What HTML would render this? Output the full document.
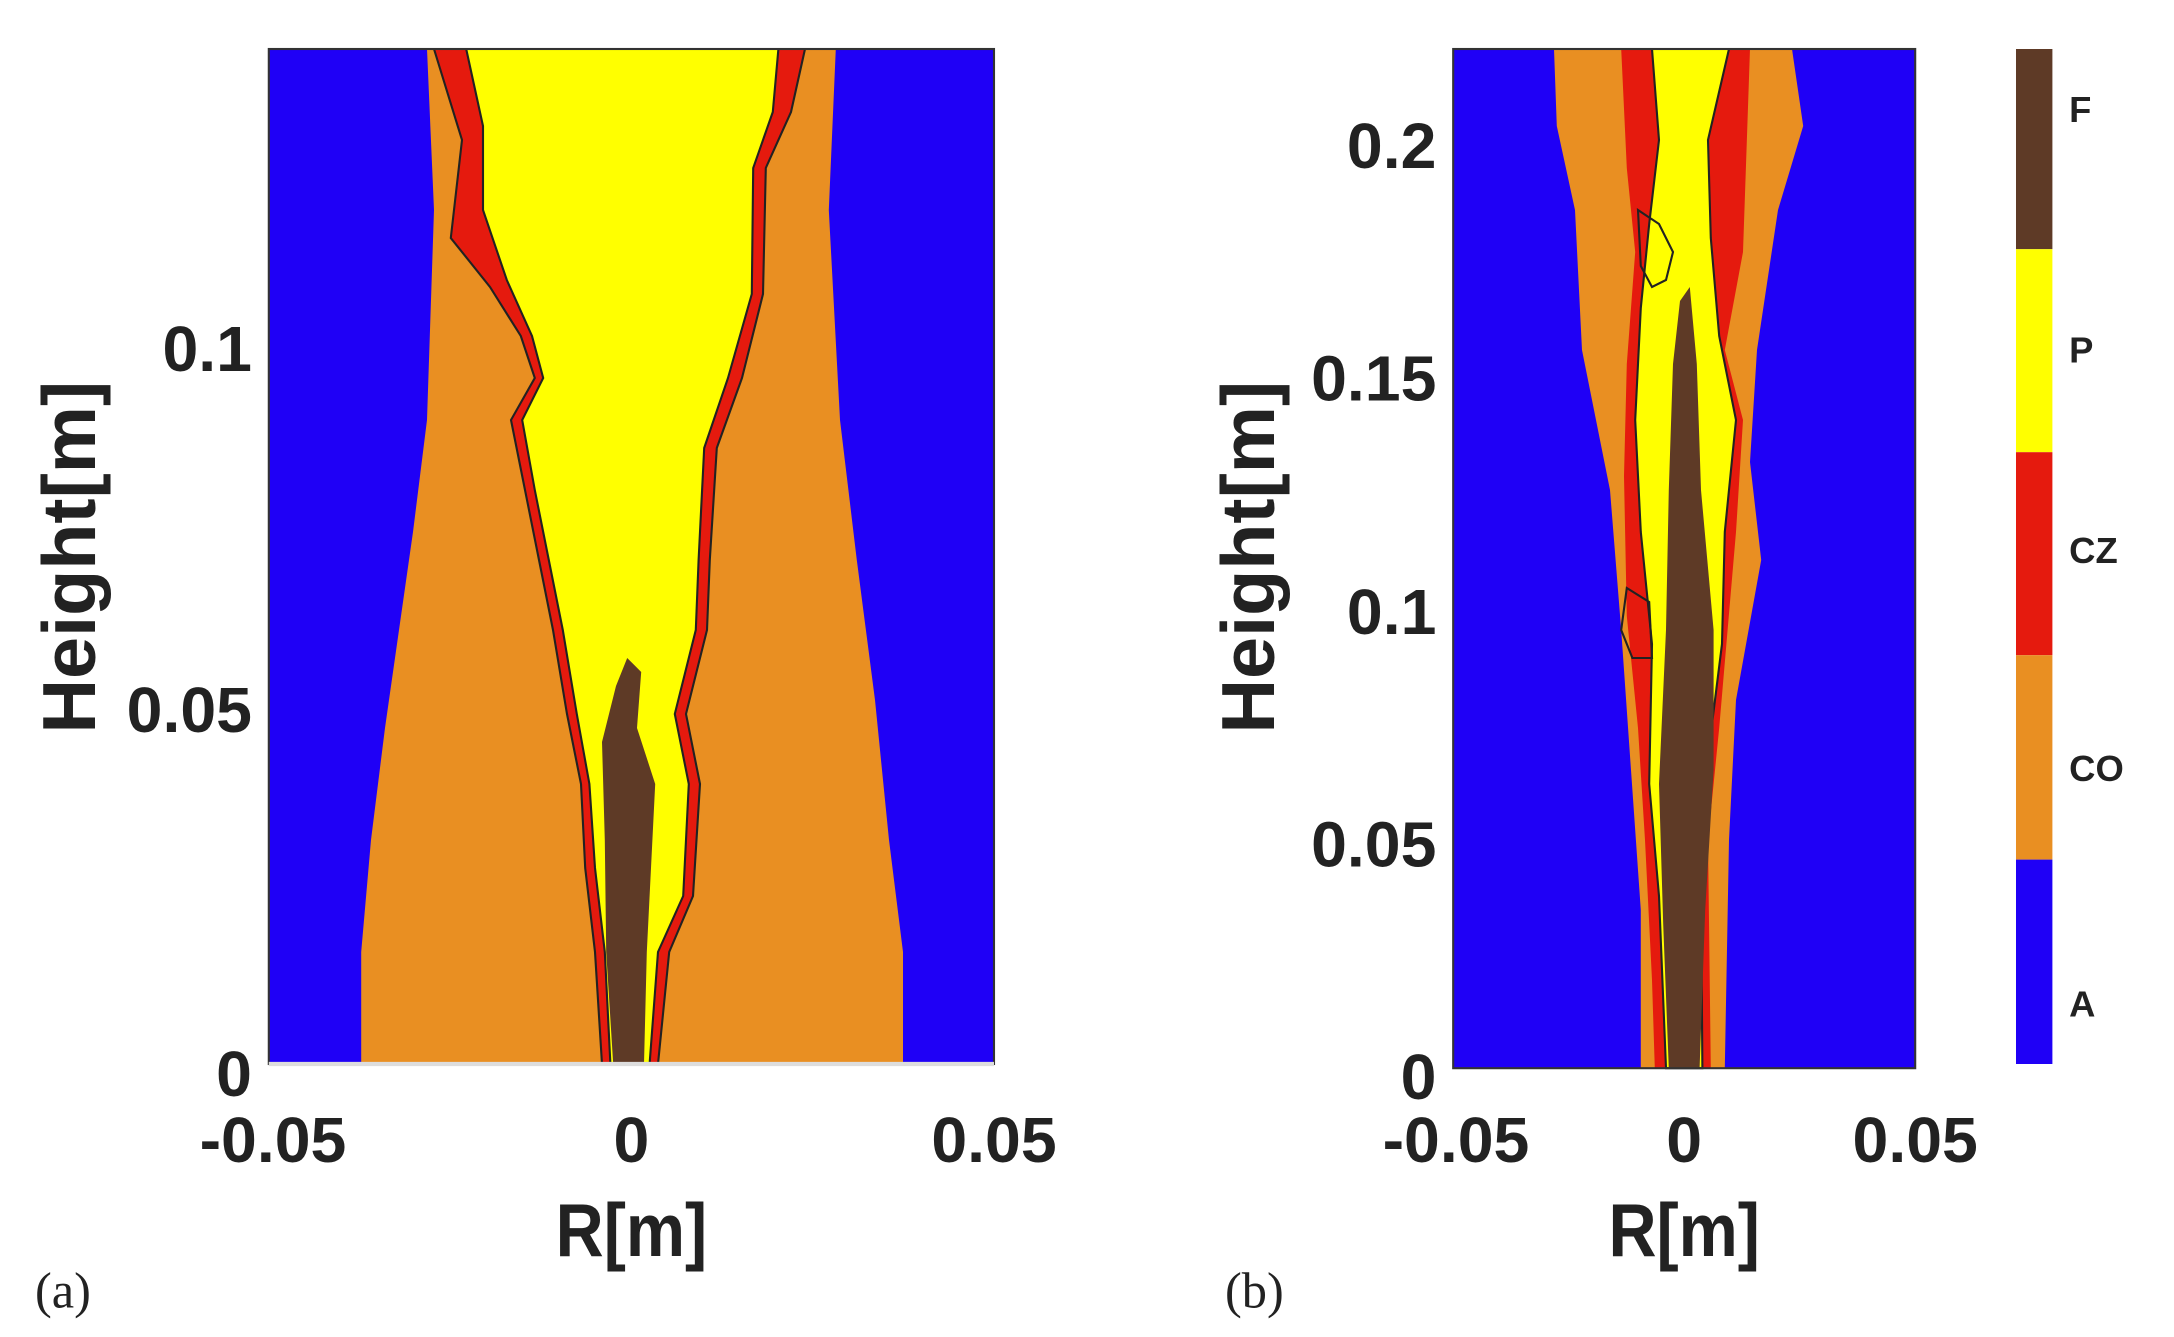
<!DOCTYPE html>
<html><head><meta charset="utf-8"><style>html,body{margin:0;padding:0;background:#fff;}svg{display:block}</style></head>
<body>
<svg width="2174" height="1337" viewBox="0 0 1552.86 955" preserveAspectRatio="none" xmlns="http://www.w3.org/2000/svg">
<rect width="1552.86" height="955" fill="#fff"/>
<!-- Panel a -->
<rect x="192" y="35" width="518" height="725" fill="#1f00f6"/>
<polygon fill="#e98f22" points="305,35 310,150 305,300 295,380 285,450 275,520 265,600 258,680 258,760 645,760 645,680 635,600 625,500 612,400 600,300 592,150 597,35"/>
<polygon fill="#e51a0e" stroke="#222" stroke-width="1.5" points="310,35 330,100 322,170 350,205 372,240 382,270 365,300 375,350 385,400 395,450 405,510 415,560 418,620 425,680 430,760 470,760 478,680 495,640 500,560 490,510 505,450 507,400 512,320 530,270 545,210 547,120 565,80 575,35"/>
<polygon fill="#ffff00" stroke="#222" stroke-width="1.5" points="333,35 345,90 345,150 362,200 380,240 388,270 373,300 382,350 392,400 402,450 412,510 421,560 425,620 432,680 436,760 464,760 470,680 488,640 492,560 482,510 497,450 499,400 503,320 520,270 537,210 538,120 552,80 556,35"/>
<polygon fill="#5e3a26" points="438,760 433,680 432,600 430,530 440,490 448,470 458,480 455,520 468,560 465,620 462,680 460,760"/>
<rect x="192" y="35" width="518" height="725" fill="none" stroke="#333" stroke-width="1.5"/>
<line x1="192" y1="760" x2="710" y2="760" stroke="#ddd" stroke-width="3"/>
<!-- Panel b -->
<rect x="1038" y="35" width="330" height="728" fill="#1f00f6"/>
<polygon fill="#e98f22" points="1110,35 1112,90 1125,150 1130,250 1150,350 1158,450 1165,550 1172,650 1172,763 1232,763 1235,600 1240,500 1258,400 1250,330 1255,250 1270,150 1288,90 1280,35"/>
<polygon fill="#e51a0e" points="1158,35 1162,120 1168,180 1162,260 1160,340 1162,440 1170,520 1175,600 1180,700 1182,763 1222,763 1220,600 1228,520 1240,380 1245,300 1232,250 1245,180 1250,35"/>
<polygon fill="#ffff00" stroke="#222" stroke-width="1.5" points="1180,35 1185,100 1178,160 1172,220 1168,300 1172,380 1180,460 1178,560 1185,640 1190,763 1216,763 1215,640 1220,540 1230,460 1232,380 1240,300 1228,240 1222,170 1220,100 1235,35"/>
<polygon fill="#5e3a26" points="1192,763 1188,660 1185,560 1190,450 1192,350 1195,260 1200,215 1207,205 1212,260 1215,350 1224,450 1224,550 1218,650 1214,763"/>
<polygon fill="none" stroke="#222" stroke-width="1.5" points="1170,150 1185,160 1195,180 1190,200 1180,205 1172,190"/>
<polygon fill="none" stroke="#222" stroke-width="1.5" points="1162,420 1178,430 1180,470 1166,470 1158,450"/>
<rect x="1038" y="35" width="330" height="728" fill="none" stroke="#333" stroke-width="1.5"/>
<!-- Colorbar -->
<rect x="1440" y="35" width="26" height="143" fill="#5e3a26"/>
<rect x="1440" y="178" width="26" height="145" fill="#ffff00"/>
<rect x="1440" y="323" width="26" height="145" fill="#e51a0e"/>
<rect x="1440" y="468" width="26" height="146" fill="#e98f22"/>
<rect x="1440" y="614" width="26" height="146" fill="#1f00f6"/>
<g font-family="Liberation Sans, sans-serif" font-weight="bold" font-size="26" fill="#222">
<text x="1478" y="87">F</text><text x="1478" y="259">P</text><text x="1478" y="402">CZ</text><text x="1478" y="558">CO</text><text x="1478" y="726">A</text>
</g>
<!-- Axis labels -->
<g font-family="Liberation Sans, sans-serif" font-weight="bold" font-size="46" fill="#222">
<g text-anchor="end">
<text x="180" y="783">0</text><text x="180" y="523">0.05</text><text x="180" y="265">0.1</text>
<text x="1026" y="785">0</text><text x="1026" y="619">0.05</text><text x="1026" y="453">0.1</text><text x="1026" y="286">0.15</text><text x="1026" y="120">0.2</text>
</g>
<g text-anchor="middle">
<text x="195" y="830">-0.05</text><text x="451" y="830">0</text><text x="710" y="830">0.05</text>
<text x="1040" y="830">-0.05</text><text x="1203" y="830">0</text><text x="1368" y="830">0.05</text>
</g>
<g text-anchor="middle" font-size="54">
<text x="451" y="897" transform="translate(451,0) scale(0.88,1) translate(-451,0)">R[m]</text>
<text x="1203" y="897" transform="translate(1203,0) scale(0.88,1) translate(-1203,0)">R[m]</text>
<text transform="translate(68,398) rotate(-90)">Height[m]</text>
<text transform="translate(910,398) rotate(-90)">Height[m]</text>
</g>
</g>
<g font-family="Liberation Serif, serif" font-size="36" fill="#222">
<text x="25" y="934">(a)</text><text x="875" y="934">(b)</text>
</g>
</svg>
</body></html>
